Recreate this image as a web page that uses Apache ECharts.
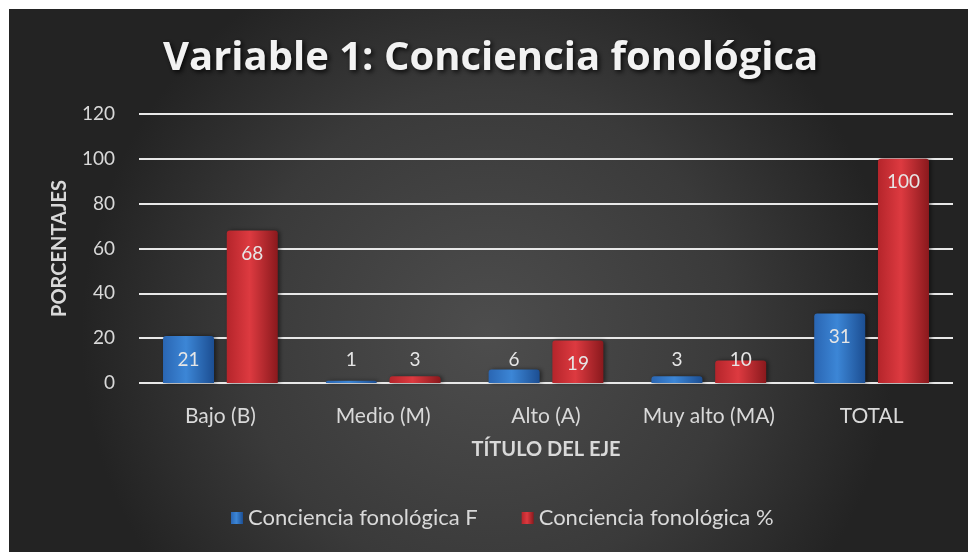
<!DOCTYPE html>
<html>
<head>
<meta charset="utf-8">
<script src="https://cdn.jsdelivr.net/npm/echarts@6/dist/echarts.min.js"></script>
<style>
  html, body { margin: 0; padding: 0; background: #ffffff; }
  #main { width: 968px; height: 552px; }
</style>
</head>
<body>
<div id="main"></div>
<script>
var categories = ['Bajo (B)', 'Medio (M)', 'Alto (A)', 'Muy alto (MA)', 'TOTAL'];
var frecuencia = [21, 1, 6, 3, 31];
var porcentaje = [68, 3, 19, 10, 100];
var yTicks = [0, 20, 40, 60, 80, 100, 120];

var chartDom = document.getElementById('main');
var myChart = echarts.init(chartDom);
var option;

// etiquetas: dentro arriba en barras altas, sobre la base en las cortas
function withLabels(arr) {
  return arr.map(function (v) {
    return {
      value: v,
      label: v >= 15
        ? { position: 'insideTop', distance: 14 }
        : { position: 'insideBottom', distance: 14 }
    };
  });
}

var txt = '#d9d9d9';
var font = 'Lato';

option = {
  backgroundColor: '#ffffff',
  graphic: [{
    type: 'rect',
    z: -10,
    silent: true,
    shape: { x: 9, y: 9, width: 959, height: 543 },
    style: {
      fill: new echarts.graphic.RadialGradient(0.5, 0.6, 0.75, [
        { offset: 0, color: '#4d4d4d' },
        { offset: 0.6, color: '#3a3a3a' },
        { offset: 1, color: '#232323' }
      ])
    }
  }],
  title: {
    text: 'Variable 1: Conciencia fonológica',
    left: 158,
    top: 34,
    textStyle: {
      color: '#f2f2f2',
      fontFamily: 'Open Sans',
      fontWeight: 'bold',
      fontSize: 40,
      textShadowColor: 'rgba(0,0,0,0.85)',
      textShadowBlur: 5,
      textShadowOffsetX: 2,
      textShadowOffsetY: 2
    }
  },
  legend: {
    bottom: 18,
    left: 226,
    itemWidth: 12,
    itemHeight: 12,
    itemGap: 44,
    icon: 'rect',
    textStyle: { color: txt, fontFamily: font, fontSize: 22 }
  },
  grid: { left: 139, right: 15, top: 114, bottom: 169 },
  xAxis: {
    type: 'category',
    data: categories,
    name: 'TÍTULO DEL EJE',
    nameLocation: 'middle',
    nameGap: 57,
    nameTextStyle: { color: txt, fontFamily: font, fontWeight: 'bold', fontSize: 20 },
    axisLine: { show: false },
    axisTick: { show: false },
    axisLabel: { color: txt, fontFamily: font, fontSize: 21, margin: 23, interval: 0 }
  },
  yAxis: {
    type: 'value',
    min: yTicks[0],
    max: yTicks[yTicks.length - 1],
    interval: yTicks[1] - yTicks[0],
    name: 'PORCENTAJES',
    nameLocation: 'middle',
    nameGap: 69,
    nameTextStyle: { color: txt, fontFamily: font, fontWeight: 'bold', fontSize: 20 },
    axisLabel: { color: txt, fontFamily: font, fontSize: 19, margin: 24 },
    splitLine: { lineStyle: { color: '#e8e8e8', width: 2 } }
  },
  series: [{
    name: 'Conciencia fonológica F',
    type: 'bar',
    barWidth: 51,
    barGap: '25%',
    data: withLabels(frecuencia),
    label: { show: true, color: '#e6e6e6', fontFamily: font, fontSize: 19 },
    itemStyle: {
      borderRadius: [3, 3, 0, 0],
      shadowColor: 'rgba(0,0,0,0.5)',
      shadowBlur: 4,
      shadowOffsetX: 2,
      color: new echarts.graphic.LinearGradient(0, 0, 1, 0, [
        { offset: 0, color: '#2a66b3' },
        { offset: 0.45, color: '#3c86d6' },
        { offset: 1, color: '#1c4e92' }
      ])
    }
  }, {
    name: 'Conciencia fonológica %',
    type: 'bar',
    barWidth: 51,
    data: withLabels(porcentaje),
    label: { show: true, color: '#e6e6e6', fontFamily: font, fontSize: 19 },
    itemStyle: {
      borderRadius: [3, 3, 0, 0],
      shadowColor: 'rgba(0,0,0,0.5)',
      shadowBlur: 4,
      shadowOffsetX: 2,
      color: new echarts.graphic.LinearGradient(0, 0, 1, 0, [
        { offset: 0, color: '#b5252b' },
        { offset: 0.45, color: '#dd3a40' },
        { offset: 1, color: '#8a191d' }
      ])
    }
  }]
};

option && myChart.setOption(option);
</script>
</body>
</html>
